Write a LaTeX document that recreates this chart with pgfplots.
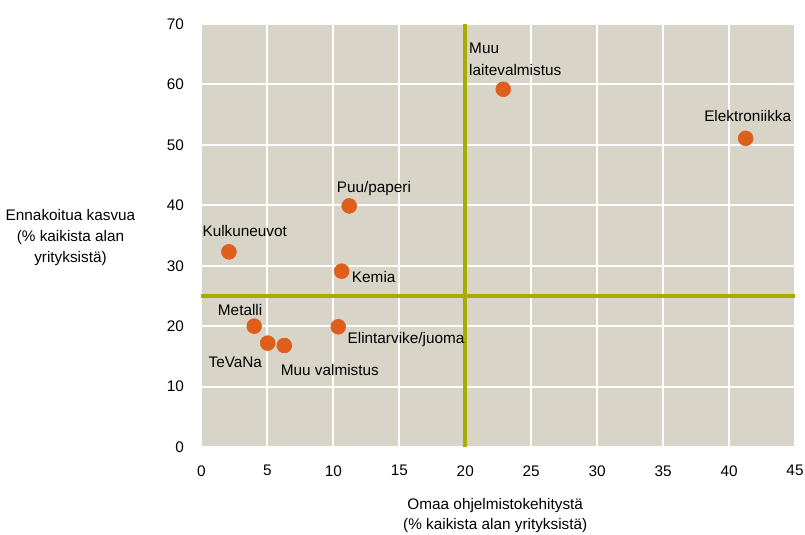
\documentclass[border=0pt]{standalone}
\usepackage{pgfplots}
\pgfplotsset{compat=1.18}
\usepackage{fontspec}
\setmainfont{Liberation Sans}
\definecolor{bg}{RGB}{216,212,200}
\definecolor{olive}{RGB}{166,173,0}
\definecolor{dot}{RGB}{221,95,27}
\begin{document}
\begin{tikzpicture}
\useasboundingbox (-151.1pt,-65.25pt) rectangle (452.6pt,335.25pt);
\begin{axis}[
  at={(0,0)}, anchor=south west,
  scale only axis,
  width=445.1pt, height=317.25pt,
  xmin=0, xmax=45, ymin=0, ymax=70,
  xtick={0,5,...,45}, ytick={0,10,...,70},
  axis background/.style={fill=bg},
  axis line style={draw=none},
  major tick length=0pt,
  grid=major,
  major grid style={white, line width=1.5pt},
  /pgf/number format/assume math mode=true,
  tick label style={font=\fontsize{11.5}{14}\selectfont, inner sep=0pt},
  yticklabel style={anchor=east, xshift=-13pt},
  xticklabel style={anchor=north, yshift=-13.5pt},
  clip=false,
]
\addplot[olive, line width=3.3pt] coordinates {(20,0) (20,70)};
\addplot[olive, line width=3pt] coordinates {(0,25) (45,25)};
\addplot[only marks, mark=*, mark size=5.6pt, mark options={draw=dot, fill=dot}] coordinates {
  (2.08,32.3) (11.2,39.9) (10.63,29.1) (4.0,20.0) (5.02,17.2) (6.28,16.8)
  (10.37,19.9) (22.88,59.2) (41.26,51.08)
};
\begin{scope}[every node/.style={font=\fontsize{11.5}{16.5}\selectfont, inner sep=0pt, anchor=base west}]
\node at (axis cs:0.06,34.8) {Kulkuneuvot};
\node at (axis cs:10.24,42.08) {Puu/paperi};
\node at (axis cs:11.39,27.19) {Kemia};
\node at (axis cs:1.23,21.84) {Metalli};
\node at (axis cs:0.52,13.19) {TeVaNa};
\node at (axis cs:6.0,11.91) {Muu valmistus};
\node at (axis cs:11.06,17.16) {Elintarvike/juoma};
\node at (axis cs:38.1,53.83) {Elektroniikka};
\node at (axis cs:20.28,65.2) {Muu};
\node at (axis cs:20.28,61.56) {laitevalmistus};
\end{scope}
\node[font=\fontsize{11.5}{15.75}\selectfont, align=center, inner sep=0pt] at (rel axis cs:-0.2207,0.495)
  {Ennakoitua kasvua\\(\% kaikista alan\\yrityksistä)};
\node[font=\fontsize{11.5}{15}\selectfont, anchor=base, inner sep=0pt] at (rel axis cs:0.495,-0.1466) {Omaa ohjelmistokehitystä};
\node[font=\fontsize{11.5}{15}\selectfont, anchor=base, inner sep=0pt] at (rel axis cs:0.495,-0.1939) {(\% kaikista alan yrityksistä)};
\end{axis}
\end{tikzpicture}
\end{document}
